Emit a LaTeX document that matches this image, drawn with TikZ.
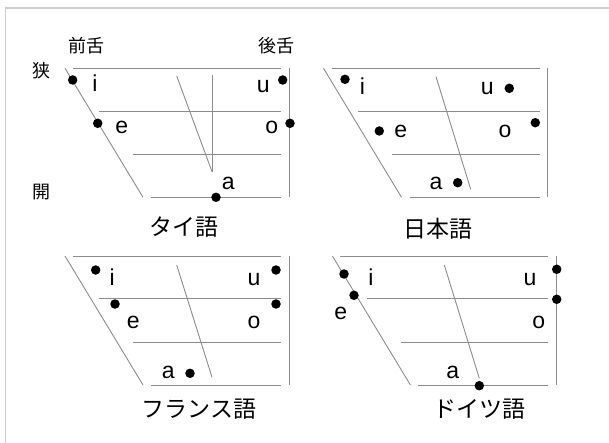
\documentclass[tikz,border=0pt]{standalone}
\usepackage{fontspec}
\setmainfont{Liberation Sans}
\newfontfamily\jp{Noto Sans CJK JP}
\definecolor{gridc}{HTML}{8C8C8C}
\definecolor{framec}{HTML}{CCCCCC}
\newcommand{\vowelgrid}{%
  \draw[gridline] (73,68.3) -- (281,68.3);
  \draw[gridline] (289.3,68.3) -- (289.3,197.3);
  \draw[gridline] (65,68.3) -- (143,197.3);
  \draw[gridline] (99.3,111) -- (281,111);
  \draw[gridline] (133.3,154.3) -- (281,154.3);
  \draw[gridline] (151,197.3) -- (281,197.3);
}
\begin{document}
\begin{tikzpicture}[x=1pt,y=-1pt,
  gridline/.style={draw=gridc,line width=0.9pt},
  vdot/.style={circle,fill=black,inner sep=0pt,minimum size=9.5pt},
  vlab/.style={anchor=base,inner sep=0pt,font=\fontsize{23}{23}\selectfont},
  title/.style={inner sep=0pt,font=\jp\fontsize{23}{23}\selectfont},
  axlab/.style={inner sep=0pt,font=\jp\fontsize{18}{18}\selectfont}]
\useasboundingbox (0,0) rectangle (609,443);
\draw[framec,line width=1.5pt] (5.5,443) -- (5.5,8) -- (609,8);
% axis labels
\node[axlab] (front) at (86,45.5) {前舌};
\node[axlab] (back) at (276,45.5) {後舌};
\node[axlab] (close) at (41.7,70.8) {狭};
\node[axlab] (open) at (41.7,192) {開};
% Thai
\begin{scope}
  \vowelgrid
  \draw[gridline] (176.7,76) -- (212,171.7);
  \draw[gridline] (212,75) -- (212,171.7);
\end{scope}
\node[vdot] (thi) at (72.7,80) {};
\node[vdot] (the) at (97.7,123.3) {};
\node[vdot] (thu) at (282.7,80) {};
\node[vdot] (tho) at (290,123.3) {};
\node[vdot] (tha) at (216,197.3) {};
\node[vlab] (thil) at (95,92) {i};
\node[vlab] (thel) at (121.7,134) {e};
\node[vlab] (thul) at (263.3,92.5) {u};
\node[vlab] (thol) at (271.7,134) {o};
\node[vlab] (thal) at (228.3,189.5) {a};
\node[title] (tht) at (184,227.5) {タイ語};
% Japanese
\begin{scope}[shift={(258.5,0)}]
  \vowelgrid
  \draw[gridline] (177.5,76.7) -- (212.2,189.3);
\end{scope}
\node[vdot] (jai) at (345,79.3) {};
\node[vdot] (jau) at (509.3,88.3) {};
\node[vdot] (jae) at (379.3,131) {};
\node[vdot] (jao) at (535.3,122.7) {};
\node[vdot] (jaa) at (457.7,182.7) {};
\node[vlab] (jail) at (362.3,95) {i};
\node[vlab] (jaul) at (487.3,95) {u};
\node[vlab] (jael) at (400.7,137.7) {e};
\node[vlab] (jaol) at (505,137.7) {o};
\node[vlab] (jaal) at (436,190) {a};
\node[title] (jat) at (438,229) {日本語};
% French
\begin{scope}[shift={(0,187.7)}]
  \vowelgrid
  \draw[gridline] (176.7,77.3) -- (212,189.6);
\end{scope}
\node[vdot] (fri) at (95.7,270) {};
\node[vdot] (fru) at (276,270) {};
\node[vdot] (fre) at (115,304) {};
\node[vdot] (fro) at (276,304) {};
\node[vdot] (fra) at (190,373.3) {};
\node[vlab] (fril) at (112.3,285) {i};
\node[vlab] (frul) at (254,285) {u};
\node[vlab] (frel) at (133.3,328.3) {e};
\node[vlab] (frol) at (254,328.3) {o};
\node[vlab] (fral) at (168.3,378.3) {a};
\node[title] (frt) at (199,409) {フランス語};
% German
\begin{scope}[shift={(267.4,187.7)}]
  \vowelgrid
  \draw[gridline] (176.9,77.3) -- (211.9,190.6);
\end{scope}
\node[vdot] (dei) at (344,274) {};
\node[vdot] (dee) at (354,295.3) {};
\node[vdot] (deu) at (556.7,269.3) {};
\node[vdot] (deo) at (556.7,299.3) {};
\node[vdot] (dea) at (479.3,385.7) {};
\node[vlab] (deil) at (371,285) {i};
\node[vlab] (deul) at (530,285) {u};
\node[vlab] (deel) at (340.7,319.3) {e};
\node[vlab] (deol) at (538.7,328.3) {o};
\node[vlab] (deal) at (452.7,378.3) {a};
\node[title] (det) at (479,409) {ドイツ語};
\end{tikzpicture}
\end{document}
